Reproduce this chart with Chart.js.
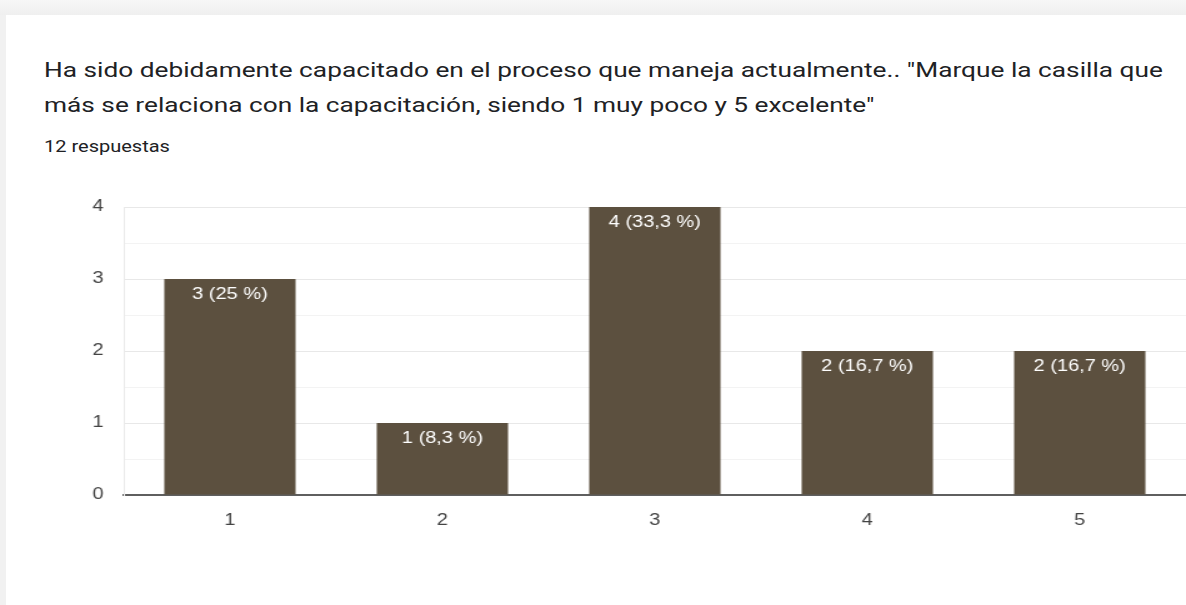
<!DOCTYPE html>
<html>
<head>
<meta charset="utf-8">
<script src="https://cdn.jsdelivr.net/npm/chart.js@4.4.1/dist/chart.umd.min.js"></script>
<style>
  html, body { margin: 0; padding: 0; background: #ffffff; overflow: hidden; }
  body { width: 1186px; height: 605px; position: relative; }
  .topband { position: absolute; left: 0; top: 0; width: 1186px; height: 15px;
             background: linear-gradient(#f7f7f7, #efefef); }
  .leftband { position: absolute; left: 0; top: 15px; width: 6px; height: 590px; background: #f1f1f1; }
  .card { position: absolute; left: 6px; top: 15px; width: 1180px; height: 590px; background: #fff; }
  /* the whole layout is drawn with a wide horizontal stretch */
  .title { position: absolute; left: 44px; top: 53px; font-family: Roboto, sans-serif;
           font-size: 21px; line-height: 35px; color: #202124; white-space: nowrap;
           transform: scaleX(1.25); transform-origin: 0 0; }
  .count { position: absolute; left: 44px; top: 137px; font-family: Roboto, sans-serif;
           font-size: 16px; color: #202124; white-space: nowrap;
           transform: scaleX(1.25); transform-origin: 0 0; }
  .wrap { position: absolute; left: 0; top: 0; width: 949px; height: 605px;
          transform: scaleX(1.2497); transform-origin: 0 0; }
</style>
</head>
<body>
<div class="topband"></div>
<div class="leftband"></div>
<div class="card"></div>
<div class="title">Ha sido debidamente capacitado en el proceso que maneja actualmente.. "Marque la casilla que<br>más se relaciona con la capacitación, siendo 1 muy poco y 5 excelente"</div>
<div class="count">12 respuestas</div>
<div class="wrap"><canvas id="c"></canvas></div>
<script>
// Answer options (1 = muy poco ... 5 = excelente) and how many responses each got
const categories = ['1', '2', '3', '4', '5'];
const responses = [3, 1, 4, 2, 2];
const yTickValues = [0, 1, 2, 3, 4];

const total = responses.reduce((a, b) => a + b, 0);
const BAR_COLOR = '#5c503f';
const FONT = '"Liberation Sans", Arial, sans-serif';

function pctLabel(v) {
  const p = Math.round(v / total * 1000) / 10;
  return v + ' (' + String(p).replace('.', ',') + ' %)';
}

// Writes "n (p %)" inside the top of each bar
const barLabels = {
  id: 'barLabels',
  afterDatasetsDraw(chart) {
    const ctx = chart.ctx;
    const meta = chart.getDatasetMeta(0);
    ctx.save();
    ctx.font = '16px ' + FONT;
    ctx.fillStyle = '#ffffff';
    ctx.textAlign = 'center';
    ctx.textBaseline = 'middle';
    meta.data.forEach((bar, i) => {
      ctx.fillText(pctLabel(responses[i]), bar.x, bar.y + 16);
    });
    ctx.restore();
  }
};

new Chart(document.getElementById('c'), {
  type: 'bar',
  data: {
    labels: categories,
    datasets: [{
      data: responses,
      backgroundColor: BAR_COLOR,
      borderWidth: 0,
      categoryPercentage: 1,
      barPercentage: 0.618
    }]
  },
  options: {
    responsive: true,
    maintainAspectRatio: false,
    animation: false,
    layout: { padding: { top: 207, right: 0, left: 0, bottom: 0 } },
    plugins: { legend: { display: false }, tooltip: { enabled: false } },
    scales: {
      x: {
        grid: { display: false },
        border: { display: true, color: '#5f5f5f', width: 2 },
        ticks: {
          color: '#444444', padding: 8,
          font: { family: FONT, size: 16 }
        },
        afterFit(scale) { scale.height = 110; }
      },
      y: {
        min: yTickValues[0],
        max: yTickValues[yTickValues.length - 1],
        afterBuildTicks(scale) {
          // whole numbers get labels, half steps only a faint line
          const t = [];
          yTickValues.forEach((v, i) => {
            t.push({ value: v });
            if (i < yTickValues.length - 1) t.push({ value: v + 0.5 });
          });
          scale.ticks = t;
        },
        grid: {
          drawTicks: false,
          color: (c) => (c.tick && Number.isInteger(c.tick.value)) ? '#e8e8e8' : '#f3f3f3',
          lineWidth: 1
        },
        border: { display: true, color: '#ebebeb', width: 1 },
        ticks: {
          color: '#444444', padding: 16,
          font: { family: FONT, size: 16 },
          callback: (v) => Number.isInteger(v) ? String(v) : ''
        },
        afterFit(scale) { scale.width = 99; }
      }
    }
  },
  plugins: [barLabels]
});
</script>
</body>
</html>
